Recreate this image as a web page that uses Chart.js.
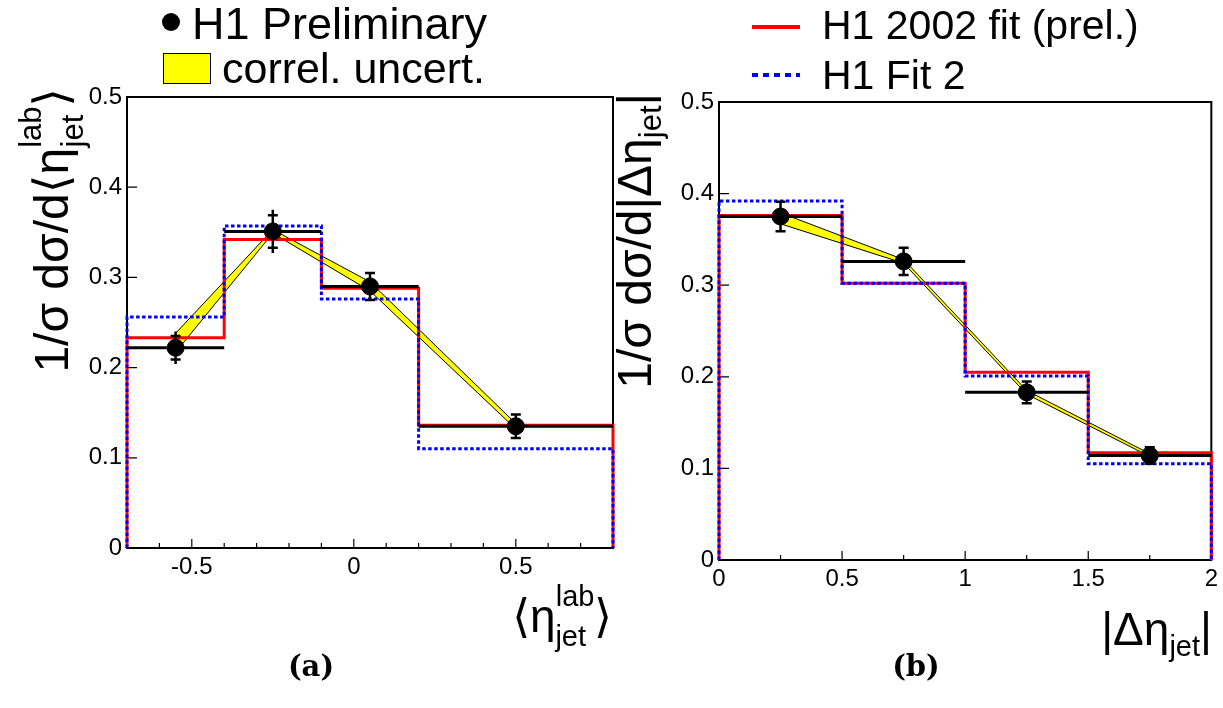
<!DOCTYPE html>
<html>
<head>
<meta charset="utf-8">
<title>H1 jet pseudorapidity distributions</title>
<script src="https://cdn.jsdelivr.net/npm/chart.js@4.4.1/dist/chart.umd.min.js"></script>
<style>
  html, body { margin: 0; padding: 0; background: #fff; }
  #page { position: relative; width: 1223px; height: 708px; overflow: hidden;
          font-family: "Liberation Sans", Arial, "DejaVu Sans", sans-serif; color: #000; }
  #page canvas { position: absolute; left: 0; top: 0; }
  .lbl { position: absolute; white-space: nowrap; line-height: 1; }
  .ytitle { font-size: 48px; width: 420px; text-align: right; transform: rotate(-90deg); transform-origin: 0 0; }
  .ytitle .sm { font-size: 31px; position: relative; }
  .xtitle { font-size: 46px; }
  .xtitle .sm { font-size: 29px; position: relative; }
  .panel { font-family: "DejaVu Serif", "Liberation Serif", serif; font-weight: bold; font-size: 29px;
           width: 100px; text-align: center; }
</style>
</head>
<body>
<div id="page">
  <canvas id="chartA" width="1223" height="708"></canvas>
  <canvas id="chartB" width="1223" height="708"></canvas>

  <!-- legend, left -->
  <div style="position:absolute;left:162px;top:13px;width:18px;height:18px;border-radius:50%;background:#000"></div>
  <div class="lbl" style="left:192px;top:1px;font-size:45px">H1 Preliminary</div>
  <div style="position:absolute;left:163px;top:53px;width:48px;height:31px;background:#ffff00;border:1px solid #000;box-sizing:border-box"></div>
  <div class="lbl" style="left:222px;top:47px;font-size:43px">correl. uncert.</div>

  <!-- legend, right -->
  <div style="position:absolute;left:752px;top:25px;width:48px;height:4px;background:#ff0000"></div>
  <div class="lbl" style="left:822px;top:5px;font-size:41px">H1 2002 fit (prel.)</div>
  <div style="position:absolute;left:752px;top:73px;width:48px;height:4px;background:repeating-linear-gradient(90deg,#0000ff 0 6px,transparent 6px 11px)"></div>
  <div class="lbl" style="left:822px;top:55px;font-size:41px">H1 Fit 2</div>

  <!-- axis titles -->
  <div class="lbl ytitle" style="left:28px;top:508px">1/σ dσ/d⟨η<span class="sm" style="top:-27px">lab</span><span class="sm" style="top:15px;margin-left:-41px;margin-right:8px">jet</span>⟩</div>
  <div class="lbl xtitle" style="right:611px;top:593px">⟨η<span class="sm" style="top:-26px">lab</span><span class="sm" style="top:14px;margin-left:-39px;margin-right:8px">jet</span>⟩</div>

  <div class="lbl ytitle" style="left:611px;top:513px">1/σ dσ/d|Δη<span class="sm" style="top:10px">jet</span>|</div>
  <div class="lbl xtitle" style="right:11px;top:606px">|Δη<span class="sm" style="top:11px">jet</span>|</div>

  <div class="lbl panel" style="left:261px;top:652px">(a)</div>
  <div class="lbl panel" style="left:866px;top:652px">(b)</div>
</div>

<script>
// panel (a): <eta_jet^lab>
const binEdgesA = [-0.7, -0.4, -0.1, 0.2, 0.8];
const centersA = [-0.55, -0.25, 0.05, 0.5];
const dataA = [0.222, 0.351, 0.290, 0.135];
const statA = [0.013, 0.018, 0.015, 0.013];
const totA = [0.018, 0.024, 0.016, 0.014];
const bandLoA = [0.217, 0.349, 0.285, 0.132];
const bandHiA = [0.238, 0.353, 0.295, 0.138];
const fit2002A = [0.233, 0.342, 0.288, 0.136];
const fit2A = [0.256, 0.357, 0.276, 0.110];
const xTicksA = [-0.5, 0, 0.5];

// panel (b): |delta eta_jet|
const binEdgesB = [0, 0.5, 1.0, 1.5, 2.0];
const centersB = [0.25, 0.75, 1.25, 1.75];
const dataB = [0.375, 0.326, 0.183, 0.114];
const statB = [0.016, 0.015, 0.012, 0.009];
const totB = [0.016, 0.015, 0.012, 0.009];
const bandLoB = [0.367, 0.324, 0.181, 0.113];
const bandHiB = [0.379, 0.328, 0.185, 0.116];
const fit2002B = [0.376, 0.302, 0.205, 0.117];
const fit2B = [0.392, 0.302, 0.201, 0.105];
const xTicksB = [0, 0.5, 1, 1.5, 2];

const yTicks = [0, 0.1, 0.2, 0.3, 0.4, 0.5];

Chart.defaults.font.family = "'Liberation Sans', Arial, sans-serif";
Chart.defaults.color = '#000';

// histogram outline, dropping to zero at both ends
function histPoints(edges, vals) {
  const pts = [{ x: edges[0], y: 0 }];
  vals.forEach((v, i) => {
    pts.push({ x: edges[i], y: v }, { x: edges[i + 1], y: v });
  });
  pts.push({ x: edges[edges.length - 1], y: 0 });
  return pts;
}

// horizontal bin-width lines for the data, broken between bins
function binLines(edges, vals) {
  const pts = [];
  vals.forEach((v, i) => {
    pts.push({ x: edges[i], y: v }, { x: edges[i + 1], y: v }, { x: edges[i + 1], y: null });
  });
  return pts;
}

function xy(xs, ys) {
  return xs.map((x, i) => ({ x: x, y: ys[i] }));
}

function fmt(v) {
  return String(+Number(v).toFixed(2));
}

function errorBars(centers, vals, stat, tot) {
  return {
    id: 'errorBars',
    beforeDatasetDraw(chart, args) {
      if (chart.data.datasets[args.index].label !== 'H1 Preliminary') return;
      const { ctx, scales: { x, y } } = chart;
      ctx.save();
      ctx.strokeStyle = '#000';
      ctx.lineWidth = 2.5;
      ctx.beginPath();
      centers.forEach((c, i) => {
        const px = x.getPixelForValue(c);
        ctx.moveTo(px, y.getPixelForValue(vals[i] - tot[i]));
        ctx.lineTo(px, y.getPixelForValue(vals[i] + tot[i]));
        [vals[i] - stat[i], vals[i] + stat[i]].forEach(e => {
          const py = y.getPixelForValue(e);
          ctx.moveTo(px - 5, py);
          ctx.lineTo(px + 5, py);
        });
      });
      ctx.stroke();
      ctx.restore();
    }
  };
}

// ROOT style frame with inward ticks
function frameTicks(xMinor) {
  return {
    id: 'frameTicks',
    beforeDatasetsDraw(chart) {
      const { ctx, chartArea: a, scales: { x, y } } = chart;
      ctx.save();
      ctx.strokeStyle = '#000';
      ctx.lineWidth = 1.2;
      ctx.beginPath();
      y.ticks.forEach(t => {
        const py = y.getPixelForValue(t.value);
        ctx.moveTo(a.left, py);
        ctx.lineTo(a.left + 10, py);
      });
      const n = Math.round((x.max - x.min) / xMinor);
      for (let k = 0; k <= n; k++) {
        const v = x.min + k * xMinor;
        const major = x.ticks.some(t => Math.abs(t.value - v) < 1e-6);
        const px = x.getPixelForValue(v);
        ctx.moveTo(px, a.bottom);
        ctx.lineTo(px, a.bottom - (major ? 9 : 5));
      }
      ctx.stroke();
      ctx.lineWidth = 2;
      ctx.strokeRect(a.left, a.top, a.right - a.left, a.bottom - a.top);
      ctx.restore();
    }
  };
}

function makeChart(id, p) {
  return new Chart(document.getElementById(id), {
    type: 'line',
    data: {
      datasets: [
        { label: 'H1 Preliminary', data: xy(p.centers, p.values), showLine: false,
          pointRadius: 8.5, pointBackgroundColor: '#000', pointBorderColor: '#000', pointBorderWidth: 1, order: 0, clip: false },
        { label: 'bins', data: binLines(p.edges, p.values), borderColor: '#000', borderWidth: 3,
          pointRadius: 0, order: 1, clip: false },
        { label: 'H1 Fit 2', data: histPoints(p.edges, p.fit2), borderColor: '#0000ff', borderWidth: 3,
          borderDash: [3.5, 2.5], pointRadius: 0, order: 2, clip: false },
        { label: 'H1 2002 fit (prel.)', data: histPoints(p.edges, p.fit2002), borderColor: '#ff0000', borderWidth: 3,
          pointRadius: 0, order: 3, clip: false },
        { label: 'band hi', data: xy(p.centers, p.bandHi), borderColor: '#000', borderWidth: 1,
          pointRadius: 0, order: 4, clip: false },
        { label: 'correl. uncert.', data: xy(p.centers, p.bandLo), borderColor: '#000', borderWidth: 1,
          pointRadius: 0, fill: '-1', backgroundColor: '#ffff00', order: 5, clip: false }
      ]
    },
    options: {
      responsive: false,
      animation: false,
      events: [],
      layout: { padding: p.padding },
      plugins: { legend: { display: false }, tooltip: { enabled: false } },
      scales: {
        x: {
          type: 'linear', min: p.xmin, max: p.xmax,
          afterBuildTicks: s => { s.ticks = p.xTicks.map(v => ({ value: v })); },
          afterFit: s => { s.height = 40; },
          grid: { display: false, drawTicks: false },
          border: { display: false },
          ticks: { callback: fmt, font: { size: 24 }, padding: 5, maxRotation: 0, autoSkip: false }
        },
        y: {
          min: 0, max: 0.5,
          afterBuildTicks: s => { s.ticks = yTicks.map(v => ({ value: v })); },
          afterFit: s => { s.width = 127; },
          grid: { display: false, drawTicks: false },
          border: { display: false },
          ticks: { callback: fmt, font: { size: 24 }, padding: 5, autoSkip: false }
        }
      }
    },
    plugins: [frameTicks(p.xMinor), errorBars(p.centers, p.values, p.stat, p.tot)]
  });
}

makeChart('chartA', {
  edges: binEdgesA, centers: centersA, values: dataA, stat: statA, tot: totA,
  bandLo: bandLoA, bandHi: bandHiA, fit2002: fit2002A, fit2: fit2A,
  xmin: -0.7, xmax: 0.8, xMinor: 0.1, xTicks: xTicksA,
  padding: { left: 0, right: 610, top: 97, bottom: 120 }
});

makeChart('chartB', {
  edges: binEdgesB, centers: centersB, values: dataB, stat: statB, tot: totB,
  bandLo: bandLoB, bandHi: bandHiB, fit2002: fit2002B, fit2: fit2B,
  xmin: 0, xmax: 2, xMinor: 0.25, xTicks: xTicksB,
  padding: { left: 592, right: 11, top: 102, bottom: 108 }
});
</script>
</body>
</html>
